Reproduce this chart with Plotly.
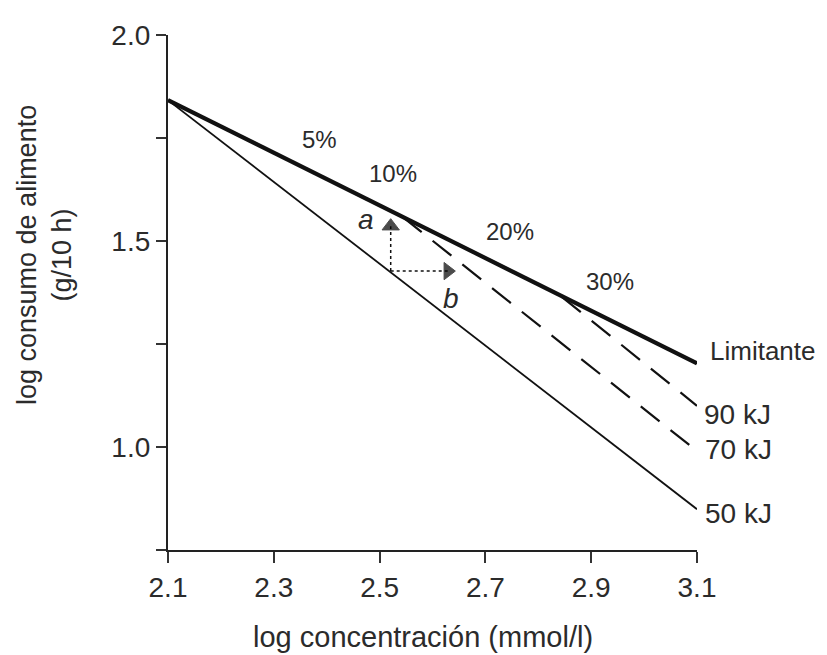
import plotly.graph_objects as go

# ---- data ----
x_limitante = [2.1, 3.1]
y_limitante = [1.842, 1.203]
x_50kj = [2.1, 3.1]
y_50kj = [1.842, 0.849]
x_70kj = [2.544, 3.1]
y_70kj = [1.558, 0.990]
x_90kj = [2.845, 3.1]
y_90kj = [1.364, 1.100]

arrow_a_x = [2.521, 2.521]
arrow_a_y = [1.427, 1.536]
arrow_b_x = [2.521, 2.629]
arrow_b_y = [1.427, 1.427]

pct_labels = ["5%", "10%", "20%", "30%"]
pct_x = [2.387, 2.525, 2.746, 2.936]
pct_y = [1.746, 1.665, 1.524, 1.402]

line_labels = ["Limitante", "90 kJ", "70 kJ", "50 kJ"]
line_label_y = [1.232, 1.079, 0.995, 0.838]

x_ticks = [2.1, 2.3, 2.5, 2.7, 2.9, 3.1]
x_ticktext = ["2.1", "2.3", "2.5", "2.7", "2.9", "3.1"]
y_ticks = [0.75, 1.0, 1.25, 1.5, 1.75, 2.0]
y_ticktext = ["", "1.0", "", "1.5", "", "2.0"]

FONT = "Liberation Sans, Arial, sans-serif"
TXT = "#2b2b2b"
LINE = "#111111"

fig = go.Figure()

fig.add_trace(go.Scatter(x=x_50kj, y=y_50kj, mode="lines",
                         line=dict(color=LINE, width=1.8), hoverinfo="skip"))
fig.add_trace(go.Scatter(x=x_70kj, y=y_70kj, mode="lines",
                         line=dict(color=LINE, width=2.2, dash="24px,14px"), hoverinfo="skip"))
fig.add_trace(go.Scatter(x=x_90kj, y=y_90kj, mode="lines",
                         line=dict(color=LINE, width=2.2, dash="24px,14px"), hoverinfo="skip"))
fig.add_trace(go.Scatter(x=x_limitante, y=y_limitante, mode="lines",
                         line=dict(color=LINE, width=4.2), hoverinfo="skip"))

# dotted arrows
fig.add_trace(go.Scatter(x=arrow_a_x, y=arrow_a_y, mode="lines+markers",
                         line=dict(color=LINE, width=1.5, dash="dot"),
                         marker=dict(symbol=["circle", "triangle-up"], size=[0, 15],
                                     color="#000000", line=dict(width=1, color="#000000")),
                         hoverinfo="skip"))
fig.add_trace(go.Scatter(x=arrow_b_x, y=arrow_b_y, mode="lines+markers",
                         line=dict(color=LINE, width=1.5, dash="dot"),
                         marker=dict(symbol=["circle", "triangle-right"], size=[0, 15],
                                     color="#000000", line=dict(width=1, color="#000000")),
                         hoverinfo="skip"))

ann = []
for t, x, y in zip(pct_labels, pct_x, pct_y):
    ann.append(dict(x=x, y=y, xref="x", yref="y", text=t, showarrow=False,
                    xanchor="center", yanchor="middle",
                    font=dict(family=FONT, size=24, color=TXT)))

ann.append(dict(x=2.474, y=1.553, xref="x", yref="y", text="<i>a</i>", showarrow=False,
                xanchor="center", yanchor="middle",
                font=dict(family=FONT, size=28, color=TXT)))
ann.append(dict(x=2.635, y=1.361, xref="x", yref="y", text="<i>b</i>", showarrow=False,
                xanchor="center", yanchor="middle",
                font=dict(family=FONT, size=28, color=TXT)))

label_shift = [12, 6, 7, 7]
label_size = [26, 28, 28, 28]
for t, s, fs, y in zip(line_labels, label_shift, label_size, line_label_y):
    ann.append(dict(x=1, y=y, xref="paper", yref="y", xshift=s, text=t, showarrow=False,
                    xanchor="left", yanchor="middle", borderpad=0,
                    font=dict(family=FONT, size=fs, color=TXT)))

# axis titles
ann.append(dict(x=0, y=1.466, xref="paper", yref="y", xshift=-124,
                xanchor="center", yanchor="middle",
                text="log consumo de alimento<br>(g/10 h)", textangle=-90,
                showarrow=False, font=dict(family=FONT, size=27, color=TXT)))
ann.append(dict(x=2.582, y=0, xref="x", yref="paper", yshift=-87,
                xanchor="center", yanchor="middle",
                text="log concentración (mmol/l)", showarrow=False,
                font=dict(family=FONT, size=29, color=TXT)))

fig.update_layout(
    width=819, height=647,
    margin=dict(l=160, r=130, t=19, b=105),
    paper_bgcolor="white", plot_bgcolor="white",
    showlegend=False,
    annotations=ann,
    xaxis=dict(range=[2.1, 3.1], tickvals=x_ticks, ticktext=x_ticktext,
               ticks="outside", ticklen=11, tickwidth=1.5, tickcolor="#333",
               showline=True, linecolor="#222", linewidth=2.2,
               showgrid=False, zeroline=False,
               tickfont=dict(family=FONT, size=28, color=TXT)),
    yaxis=dict(range=[0.75, 2.0], tickvals=y_ticks, ticktext=y_ticktext,
               ticks="outside", ticklen=10, tickwidth=1.5, tickcolor="#333",
               showline=True, linecolor="#222", linewidth=2.2,
               showgrid=False, zeroline=False,
               tickfont=dict(family=FONT, size=28, color=TXT)),
)

fig.write_html("out.html")
